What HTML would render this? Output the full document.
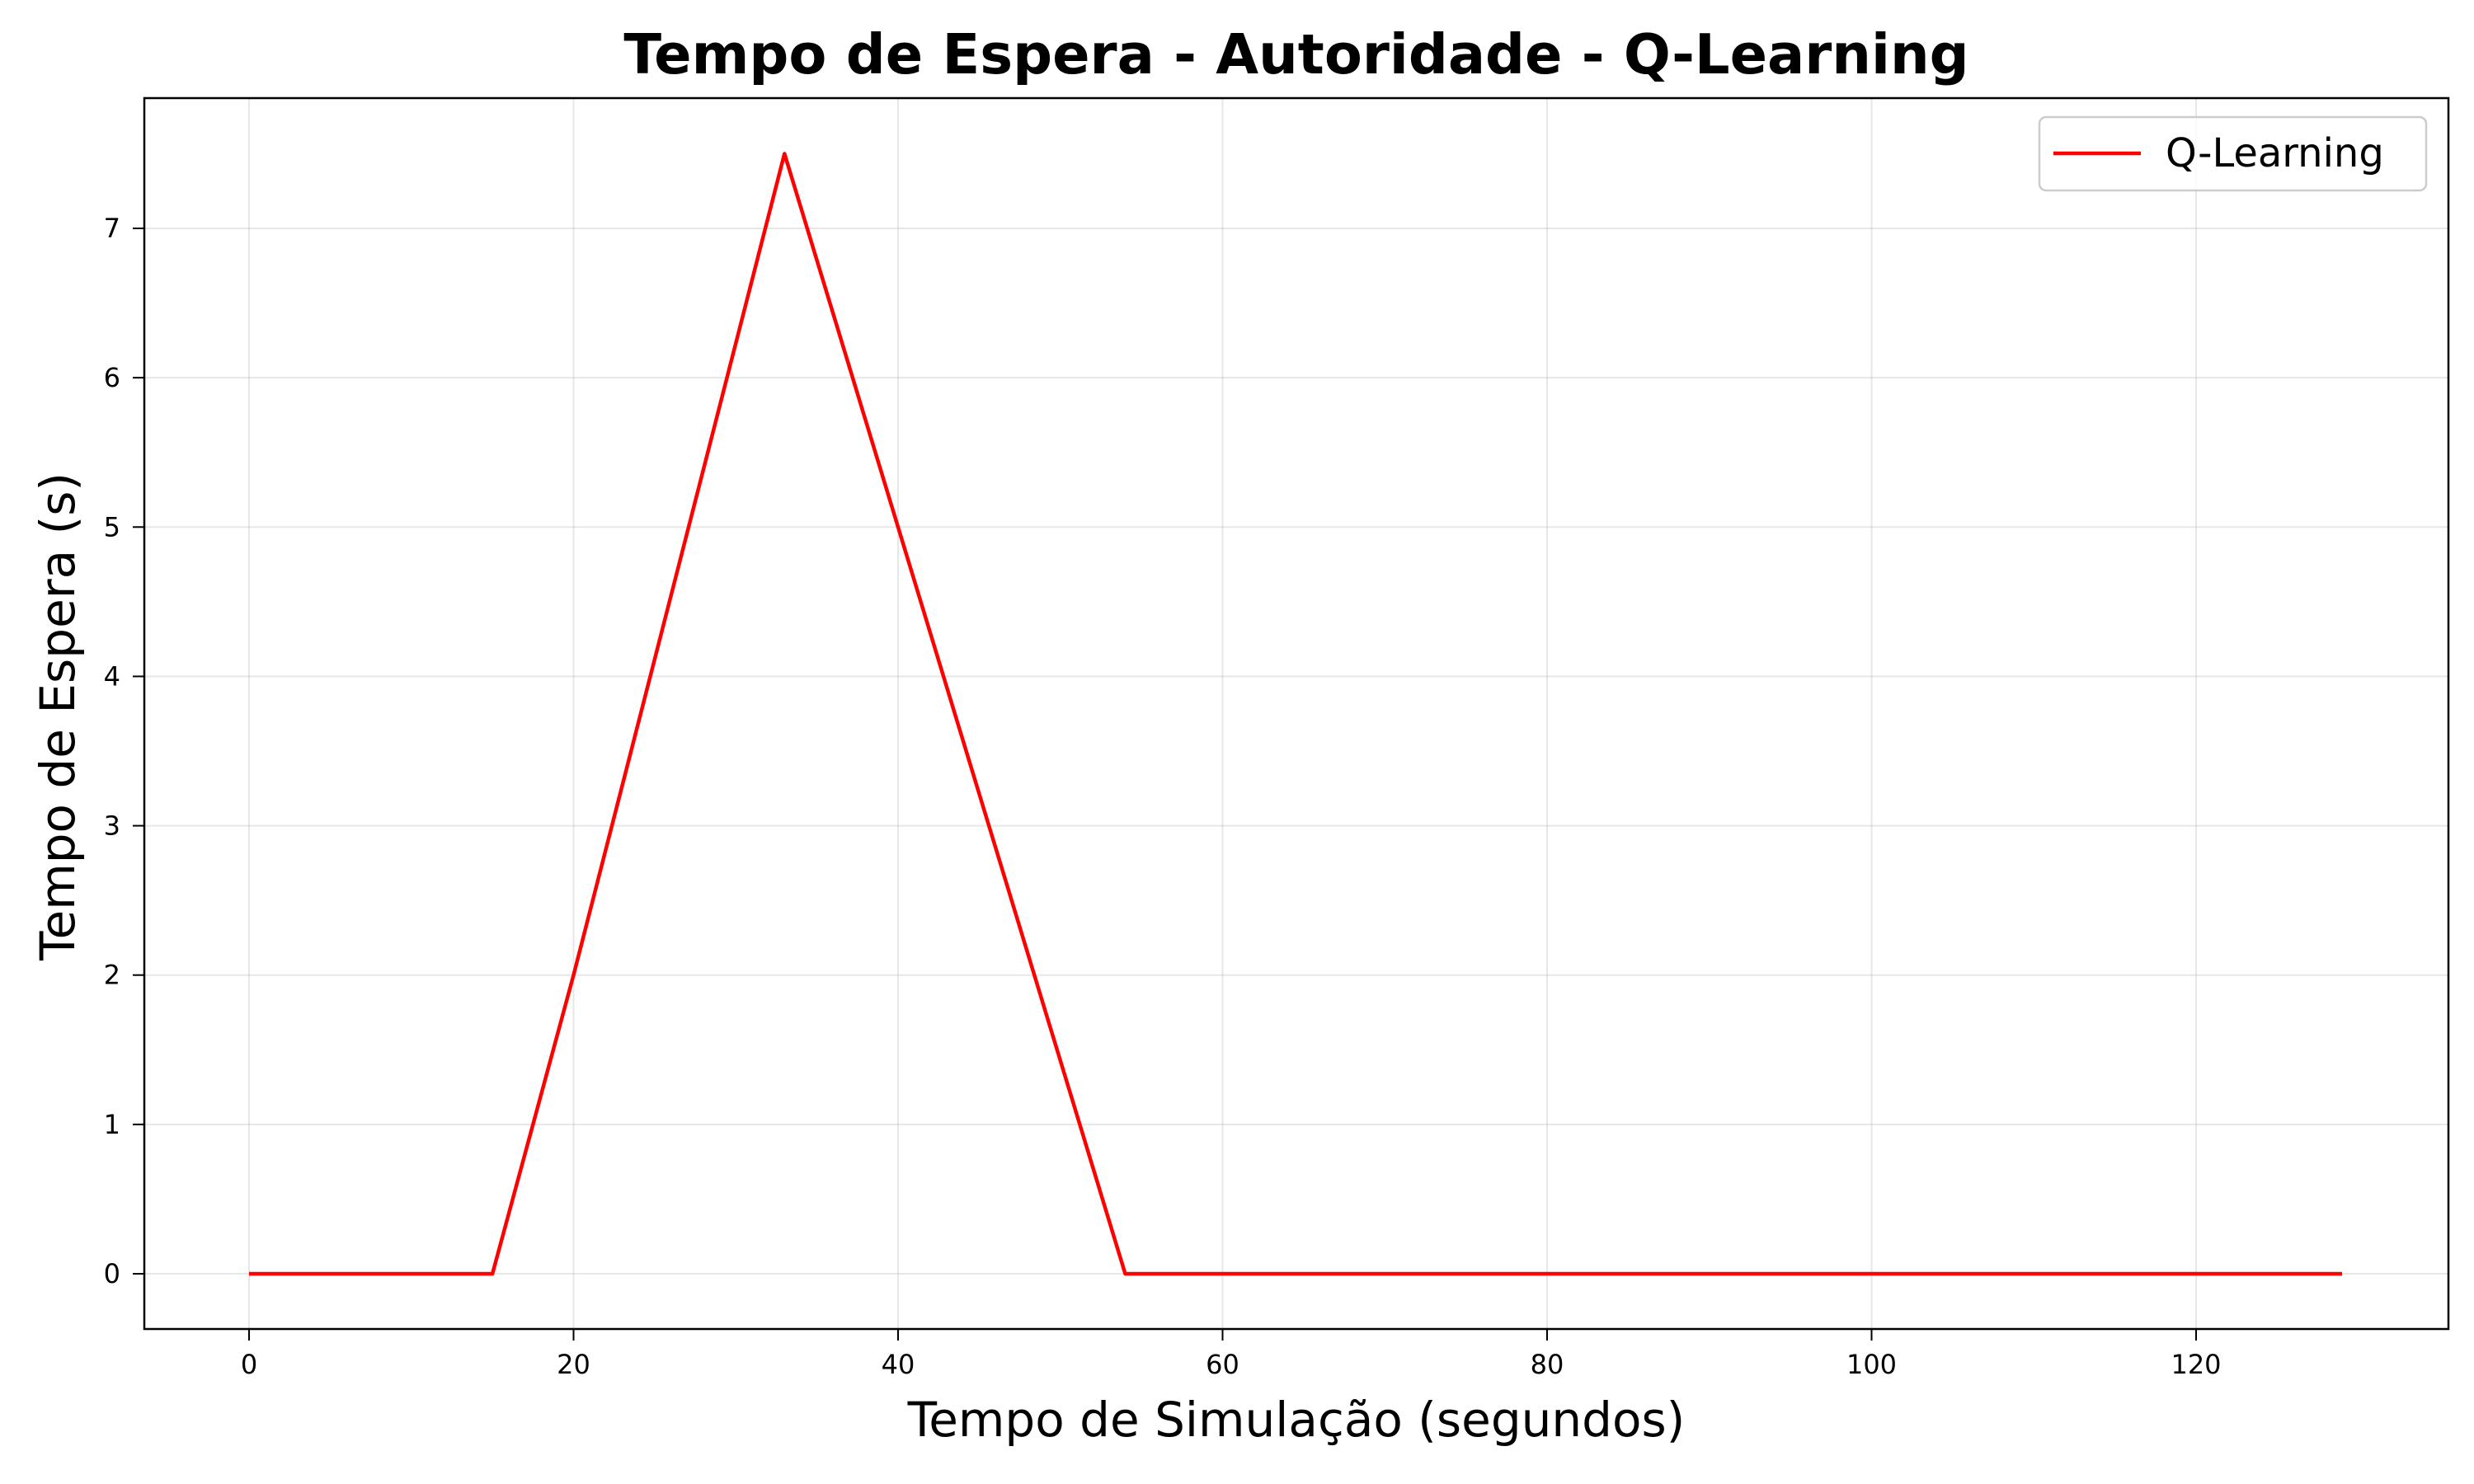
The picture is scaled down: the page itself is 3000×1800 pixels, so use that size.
<!DOCTYPE html>
<html><head><meta charset="utf-8"><style>
html,body{margin:0;padding:0;background:#fff;}
svg{display:block;font-family:"DejaVu Sans","Liberation Sans",sans-serif;}
</style></head><body>
<svg id="chart" width="3000" height="1800" viewBox="0 0 3000 1800">
<rect x="0" y="0" width="3000" height="1800" fill="#fff"/>
<g id="grid"></g>
<g id="series"></g>
<rect x="175" y="119" width="2794" height="1493" fill="none" stroke="#000" stroke-width="2.5"/>
<g id="xticks"></g>
<g id="yticks"></g>
<text x="1572" y="89" text-anchor="middle" font-size="67" font-weight="bold">Tempo de Espera - Autoridade - Q-Learning</text>
<text x="1572" y="1742" text-anchor="middle" font-size="58">Tempo de Simulação (segundos)</text>
<text transform="translate(90,869) rotate(-90)" text-anchor="middle" font-size="58">Tempo de Espera (s)</text>
<g>
<rect x="2473" y="142" width="469" height="89" rx="8" fill="#fff" fill-opacity="0.8" stroke="#ccc" stroke-width="2.5"/>
<line x1="2490" y1="186" x2="2596" y2="186" stroke="#ff0000" stroke-width="4.5"/>
<text x="2626" y="202" font-size="48">Q-Learning</text>
</g>
</svg>
<script>
const xValues=[0,15,20,33,40,54,129];
const yValues=[0,0,2,7.5,5,0,0];
const xTickLabels=[0,20,40,60,80,100,120];
const yTickLabels=[0,1,2,3,4,5,6,7];
const NS="http://www.w3.org/2000/svg";
function xs(v){return 302+v*(2663-302)/120;}
function ys(v){return 1545-v*(1545-277)/7;}
function mk(tag,attrs,parent){const e=document.createElementNS(NS,tag);for(const k in attrs)e.setAttribute(k,attrs[k]);parent.appendChild(e);return e;}
const grid=document.getElementById('grid'),xt=document.getElementById('xticks'),yt=document.getElementById('yticks'),ser=document.getElementById('series');
xTickLabels.forEach(t=>{const x=xs(t);
 const g=mk('line',{x1:x,x2:x,y1:119,y2:1612,stroke:'#b0b0b0','stroke-opacity':0.3,'stroke-width':2},grid);
 
 
 const tk=mk('line',{x1:x,x2:x,y1:1612,y2:1626,stroke:'#000','stroke-width':2},xt);
 
 
 const tx=mk('text',{x:x,y:1666,'text-anchor':'middle','font-size':32},xt);tx.textContent=t;
 
 
});
yTickLabels.forEach(t=>{const y=ys(t);
 const g=mk('line',{x1:175,x2:2969,y1:y,y2:y,stroke:'#b0b0b0','stroke-opacity':0.3,'stroke-width':2},grid);
 
 
 const tk=mk('line',{x1:161,x2:175,y1:y,y2:y,stroke:'#000','stroke-width':2},yt);
 
 
 const tx=mk('text',{x:146,y:y+11,'text-anchor':'end','font-size':32},yt);tx.textContent=t;
 
 
});
const pts=xValues.map((x,i)=>xs(x)+','+ys(yValues[i])).join(' ');
const line=mk('polyline',{points:pts,fill:'none',stroke:'#ff0000','stroke-width':4.5,'stroke-linejoin':'round'},ser);


</script>
</body></html>
